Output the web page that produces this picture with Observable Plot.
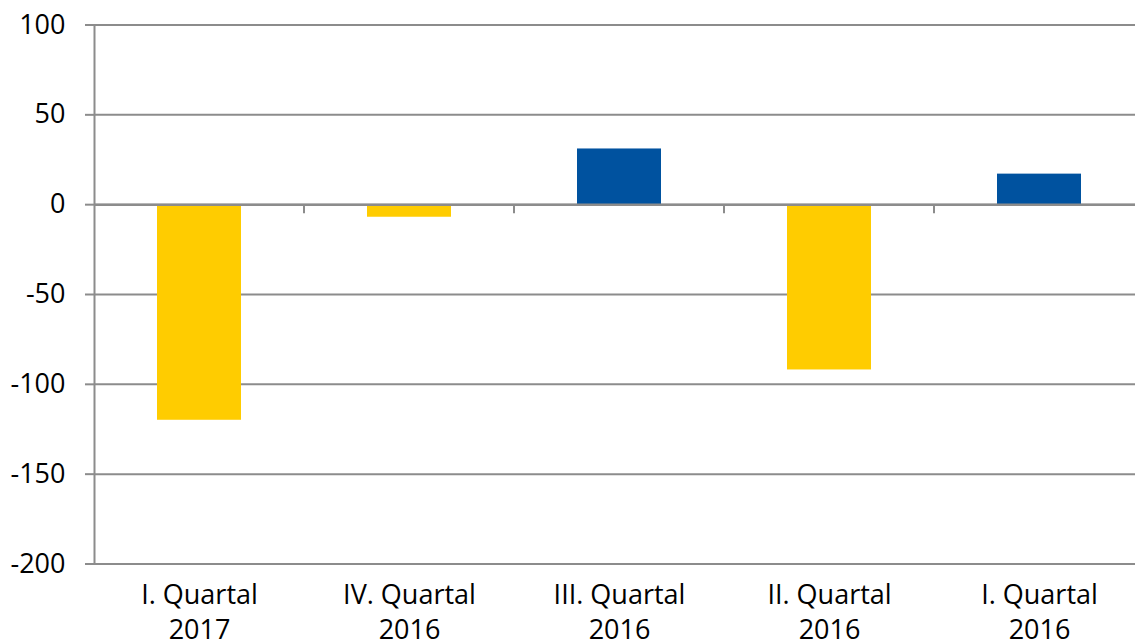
<!DOCTYPE html>
<html>
<head>
<meta charset="utf-8">
<script src="https://cdn.jsdelivr.net/npm/d3@7"></script>
<script src="https://cdn.jsdelivr.net/npm/@observablehq/plot@0.6"></script>
<style>
  html, body { margin: 0; padding: 0; background: #fff; }
  svg { display: block; }
</style>
</head>
<body>
<div id="chart"></div>
<script>
const categories = ["I. Quartal\n2017", "IV. Quartal\n2016", "III. Quartal\n2016", "II. Quartal\n2016", "I. Quartal\n2016"];
const values = [-120, -7, 31, -92, 17];
const yTicks = [100, 50, 0, -50, -100, -150, -200];
const negColor = "#FFCC00";
const posColor = "#00529F";
const gridColor = "#8c8c8c";

const data = categories.map((c, i) => ({cat: c, value: values[i]}));

function boundaryTicks(len) {
  return (index, scales, values, dims) => {
    const x = scales.x, y = scales.y;
    const bw = typeof x.bandwidth === "function" ? x.bandwidth() : x.bandwidth;
    const g = d3.create("svg:g");
    const y0 = y(0);
    for (let i = 1; i < categories.length; i++) {
      const xb = (x(categories[i - 1]) + x(categories[i]) + bw) / 2;
      g.append("line")
        .attr("x1", xb).attr("x2", xb)
        .attr("y1", y0).attr("y2", y0 + len)
        .attr("stroke", gridColor).attr("stroke-width", 2);
    }
    return g.node();
  };
}

const chart = Plot.plot({
  width: 1135,
  height: 644,
  marginTop: 24.5,
  marginBottom: 80.5,
  marginLeft: 94,
  marginRight: 0,
  style: {fontFamily: "'Open Sans', sans-serif", fontSize: "27px", color: "#000", background: "#fff"},
  x: {domain: categories, range: [94, 1144], paddingInner: 0.6, paddingOuter: 0.3},
  y: {domain: [-200, 100], range: [563.5, 24.5]},
  marks: [
    Plot.ruleY(yTicks, {stroke: gridColor, strokeWidth: 2}),
    Plot.barY(data, {x: "cat", y: "value", fill: d => d.value < 0 ? negColor : posColor}),
    Plot.ruleY([0], {stroke: gridColor, strokeWidth: 2.5}),
    boundaryTicks(9),
    Plot.frame({anchor: "left", stroke: gridColor, strokeWidth: 2}),
    Plot.axisY({ticks: yTicks, tickSize: 9, tickPadding: 20, stroke: gridColor, strokeWidth: 2, strokeOpacity: 1, fill: "#000", fontSize: 27, label: null, tickFormat: d => String(d)}),
    Plot.axisX({tickSize: 0, tickPadding: 15, fontSize: 27, lineHeight: 1.3, fill: "#000", label: null})
  ]
});
document.getElementById("chart").appendChild(chart);
</script>
</body>
</html>
